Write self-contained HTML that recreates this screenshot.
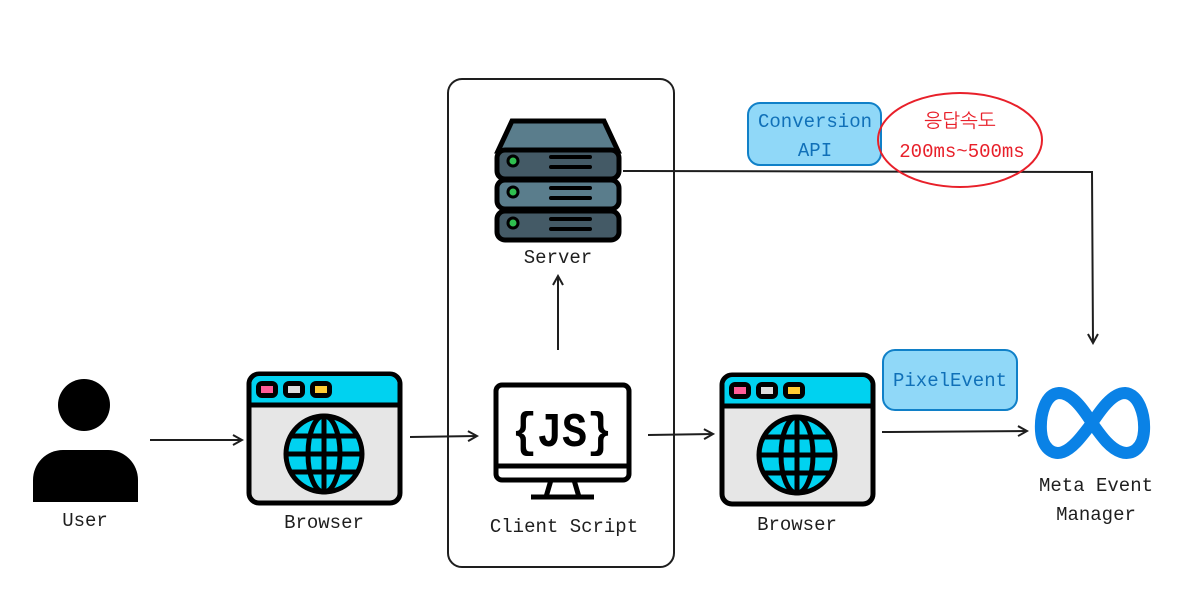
<!DOCTYPE html>
<html><head><meta charset="utf-8"><style>
html,body{margin:0;padding:0;background:#fff;width:1199px;height:608px;overflow:hidden}
text{font-family:"Liberation Mono","NanumGothic",monospace}
</style></head><body>
<svg width="1199" height="608" viewBox="0 0 1199 608" xmlns="http://www.w3.org/2000/svg">
<defs>
<marker id="ar" markerWidth="12" markerHeight="12" refX="10" refY="6" orient="auto" markerUnits="userSpaceOnUse">
<path d="M1,1 L10,6 L1,11" fill="none" stroke="#1e1e1e" stroke-width="2"/></marker>
<g id="browser">
<rect x="2" y="2" width="151" height="129" rx="10" fill="#e6e6e6" stroke="#000" stroke-width="5"/>
<path d="M4.5,12 a8,8 0 0 1 8,-8 h130 a8,8 0 0 1 8,8 v20 h-146z" fill="#00d2f0"/>
<line x1="2" y1="33" x2="153" y2="33" stroke="#000" stroke-width="5"/>
<rect x="9" y="9" width="22" height="17" rx="6" fill="#000"/><rect x="14" y="14" width="12" height="7" fill="#ff5c97"/>
<rect x="36" y="9" width="22" height="17" rx="6" fill="#000"/><rect x="41" y="14" width="12" height="7" fill="#ddd"/>
<rect x="63" y="9" width="22" height="17" rx="6" fill="#000"/><rect x="68" y="14" width="12" height="7" fill="#ffcc33"/>
<circle cx="77" cy="82" r="38" fill="#00d2f0" stroke="#000" stroke-width="5"/>
<ellipse cx="77" cy="82" rx="16" ry="38" fill="none" stroke="#000" stroke-width="5"/>
<line x1="77" y1="44" x2="77" y2="120" stroke="#000" stroke-width="5"/>
<line x1="39" y1="82" x2="115" y2="82" stroke="#000" stroke-width="5"/>
<line x1="45" y1="64" x2="109" y2="64" stroke="#000" stroke-width="5"/>
<line x1="45" y1="100" x2="109" y2="100" stroke="#000" stroke-width="5"/>
</g>
</defs>

<rect x="448" y="79" width="226" height="488" rx="14" fill="none" stroke="#1e1e1e" stroke-width="2"/>

<circle cx="84" cy="405" r="26" fill="#000"/>
<path d="M33,502 v-22 a30,30 0 0 1 30,-30 h45 a30,30 0 0 1 30,30 v22z" fill="#000"/>
<text x="85" y="526" font-size="19" text-anchor="middle" fill="#1e1e1e">User</text>

<use href="#browser" x="247" y="372"/>
<text x="324" y="528" font-size="19" text-anchor="middle" fill="#1e1e1e">Browser</text>
<use href="#browser" x="720" y="373"/>
<text x="797" y="530" font-size="19" text-anchor="middle" fill="#1e1e1e">Browser</text>

<rect x="496" y="385" width="133" height="95" rx="6" fill="#fff" stroke="#000" stroke-width="5"/>
<line x1="496" y1="466" x2="629" y2="466" stroke="#000" stroke-width="5"/>
<path d="M551,480 l-5,17 M574,480 l5,17" stroke="#000" stroke-width="5"/>
<line x1="531" y1="497" x2="594" y2="497" stroke="#000" stroke-width="5"/>
<text x="562" y="446" font-size="48" text-anchor="middle" fill="#000" font-weight="bold" textLength="100" lengthAdjust="spacingAndGlyphs">{JS}</text>
<text x="564" y="532" font-size="19" text-anchor="middle" fill="#1e1e1e">Client Script</text>

<path d="M512,121 h92 l14,30 h-120z" fill="#5a7d8c" stroke="#000" stroke-width="5"/>
<g stroke="#000" stroke-width="5">
<rect x="497" y="150" width="122" height="29" rx="8" fill="#445a66"/>
<rect x="497" y="180" width="122" height="29" rx="8" fill="#5a7d8c"/>
<rect x="497" y="211" width="122" height="29" rx="8" fill="#445a66"/>
</g>
<g fill="#2fbf4f" stroke="#000" stroke-width="3">
<circle cx="513" cy="161" r="5"/><circle cx="513" cy="192" r="5"/><circle cx="513" cy="223" r="5"/></g>
<g stroke="#000" stroke-width="4" stroke-linecap="round">
<line x1="551" y1="157" x2="590" y2="157"/><line x1="551" y1="167" x2="590" y2="167"/>
<line x1="551" y1="188" x2="590" y2="188"/><line x1="551" y1="198" x2="590" y2="198"/>
<line x1="551" y1="219" x2="590" y2="219"/><line x1="551" y1="229" x2="590" y2="229"/>
</g>
<text x="558" y="263" font-size="19" text-anchor="middle" fill="#1e1e1e">Server</text>

<path d="M1092,423 C1080,404 1070,393 1059,393 C1045,394 1040,415 1041,431 C1042,447 1052,456 1063,452 C1074,448 1084,433 1092,423 C1100,411 1112,393 1125,393 C1139,394 1145,415 1144,431 C1143,447 1133,456 1121,452 C1109,448 1100,434 1092,423 Z" fill="none" stroke="#0a82e6" stroke-width="12" stroke-linejoin="round"/>
<text x="1096" y="491" font-size="19" text-anchor="middle" fill="#1e1e1e">Meta Event</text>
<text x="1096" y="520" font-size="19" text-anchor="middle" fill="#1e1e1e">Manager</text>

<g stroke="#1e1e1e" stroke-width="2" fill="none" marker-end="url(#ar)">
<line x1="150" y1="440" x2="242" y2="440"/>
<line x1="410" y1="437" x2="477" y2="436"/>
<line x1="648" y1="435" x2="713" y2="434"/>
<line x1="882" y1="432" x2="1027" y2="431"/>
<line x1="558" y1="350" x2="558" y2="276"/>
<path d="M623,171 L1092,172 L1093,343"/>
</g>

<rect x="748" y="103" width="133" height="62" rx="12" fill="#90d8f8" stroke="#1080c8" stroke-width="2"/>
<text x="815" y="127" font-size="19" text-anchor="middle" fill="#1070b8">Conversion</text>
<text x="815" y="156" font-size="19" text-anchor="middle" fill="#1070b8">API</text>
<ellipse cx="960" cy="140" rx="82" ry="47" fill="none" stroke="#e8202a" stroke-width="2"/>
<text x="960" y="127" font-size="19" text-anchor="middle" fill="#e8202a">응답속도</text>
<text x="962" y="157" font-size="19" text-anchor="middle" fill="#e8202a">200ms~500ms</text>
<rect x="883" y="350" width="134" height="60" rx="12" fill="#90d8f8" stroke="#1080c8" stroke-width="2"/>
<text x="950" y="386" font-size="19" text-anchor="middle" fill="#1070b8">PixelEvent</text>
</svg>
</body></html>
